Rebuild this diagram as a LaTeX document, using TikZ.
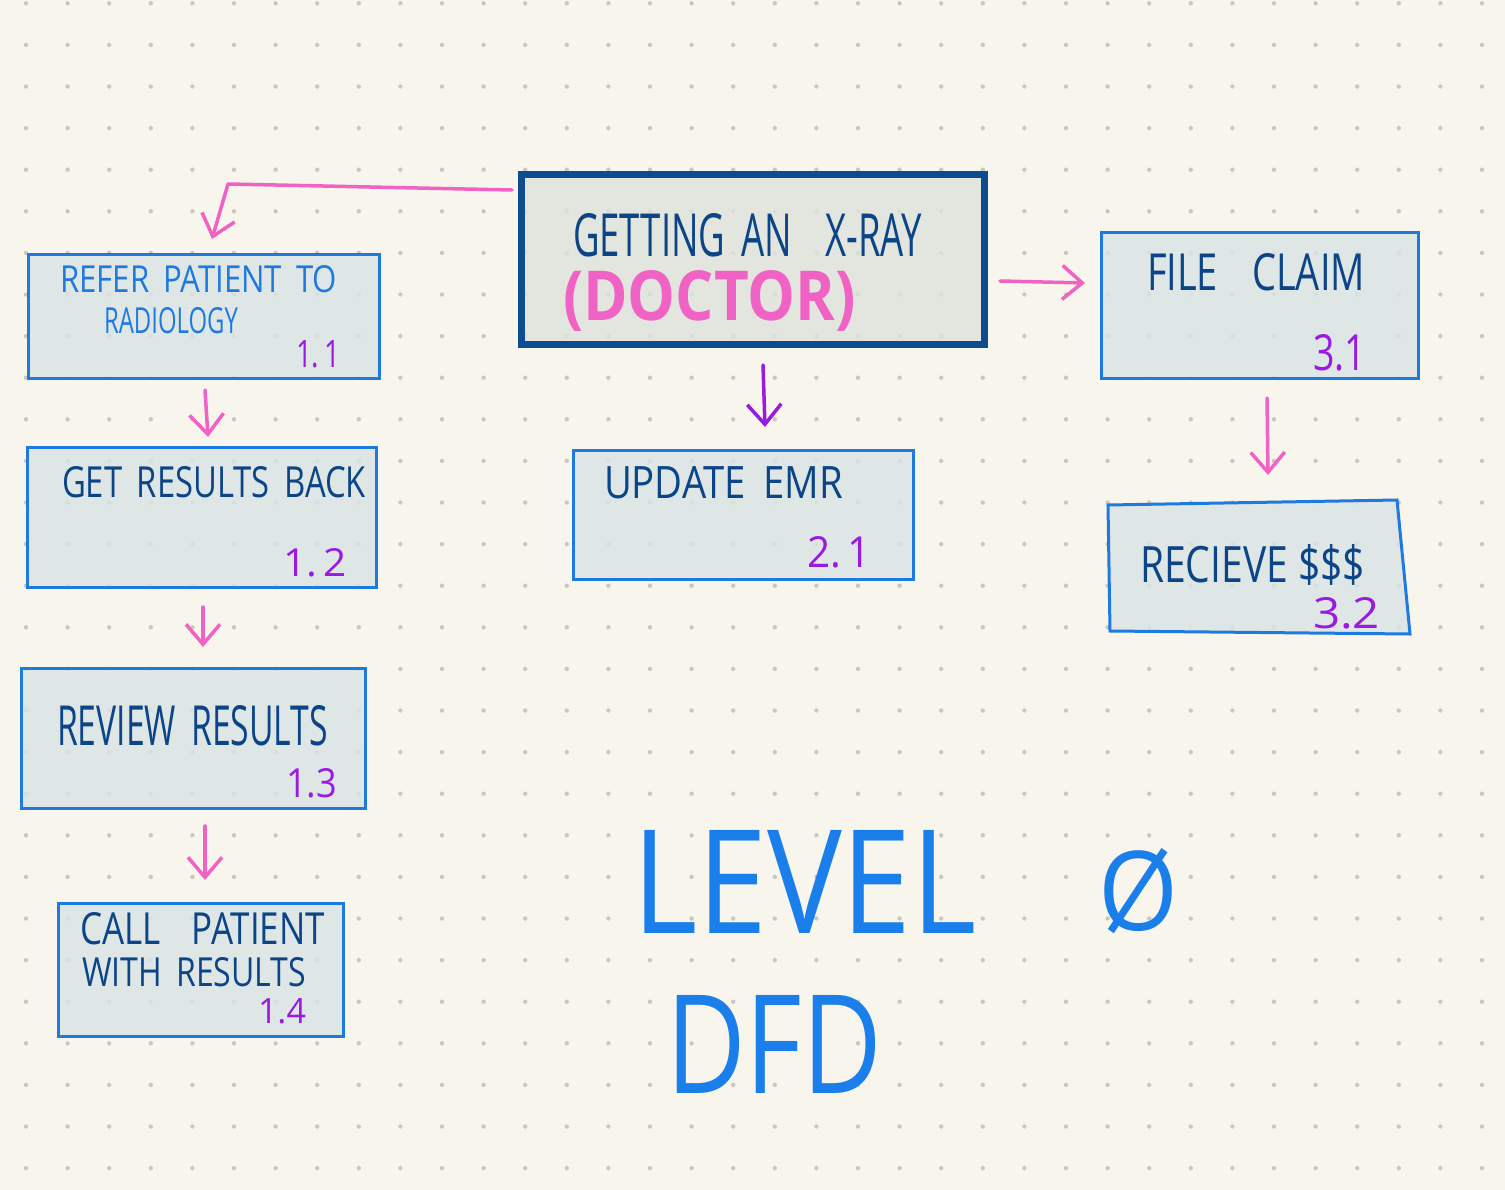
\documentclass[tikz,border=0pt]{standalone}
\usepackage{fontspec}
\setmainfont{Open Sans}
\usepackage{graphicx}
\usetikzlibrary{arrows.meta,calc}
\definecolor{bg}{HTML}{F8F6EC}
\definecolor{dotc}{HTML}{C9C7BF}
\definecolor{boxfill}{HTML}{DAE4E5}
\definecolor{mainfill}{HTML}{DEE3DB}
\definecolor{boxline}{HTML}{1F7AE0}
\definecolor{mainline}{HTML}{0E4C90}
\definecolor{navy}{HTML}{0B4487}
\definecolor{purp}{HTML}{9A1BE0}
\definecolor{pinkc}{HTML}{F062C4}
\definecolor{lvlblue}{HTML}{1A7FEA}
\newcommand{\hw}[3]{\resizebox{#1pt}{#2pt}{#3}}
\newcommand{\gap}{\hspace{0.45em}}
\begin{document}
\begin{tikzpicture}[x=1pt,y=-1pt,
  bx/.style={draw=boxline, line width=3pt, fill=boxfill, fill opacity=0.82, draw opacity=1, inner sep=0pt, outer sep=0pt},
  mainbx/.style={draw=mainline, line width=7pt, fill=mainfill, fill opacity=0.82, draw opacity=1, inner sep=0pt, outer sep=0pt},
  txt/.style={inner sep=0pt, outer sep=0pt, anchor=north west},
  arr/.style={draw=pinkc, line width=3.5pt, line cap=round, line join=round, -{Straight Barb[length=20pt,width=34pt]}},
  parr/.style={arr, draw=purp}]
\useasboundingbox (0,0) rectangle (1505,1190);
\fill[bg] (0,0) rectangle (1505,1190);
\foreach \i in {0,...,35}{\foreach \j in {0,...,28}{\fill[dotc] (26+41.6*\i, 3.3+41.6*\j) circle[radius=2.2];}}

% boxes
\node[mainbx, minimum width=463pt, minimum height=170pt] (main) at (753,259.5) {};
\node[bx, minimum width=351pt, minimum height=124pt] (b11) at (204,316.5) {};
\node[bx, minimum width=349pt, minimum height=140pt] (b12) at (202,517.5) {};
\node[bx, minimum width=344pt, minimum height=140pt] (b13) at (193.5,738.5) {};
\node[bx, minimum width=285pt, minimum height=133pt] (b14) at (201,970) {};
\node[bx, minimum width=340pt, minimum height=129pt] (b21) at (743.5,515) {};
\node[bx, minimum width=317pt, minimum height=146pt] (b31) at (1260,305.5) {};
\draw[draw=boxline, line width=3pt, fill=boxfill, fill opacity=0.82, draw opacity=1, line join=miter]
  (1108,505) -- (1397,500) -- (1410,634) -- (1110,631) -- cycle;
\coordinate (b32) at (1268,502);

% texts
\node[txt, text=navy] (t1) at (573,213) {\hw{349}{43}{GETTING\gap AN\gap\gap X-RAY}};
\node[txt, text=pinkc] (t2) at (563,270) {\hw{293}{50}{\bfseries(DOCTOR)}};
\node[txt, text=boxline] (t3) at (60,265) {\hw{277}{27}{REFER\gap PATIENT\gap TO}};
\node[txt, text=boxline] (t4) at (104,307) {\hw{134}{26}{RADIOLOGY}};
\node[txt, text=purp] (n11) at (296,340) {\hw{44}{27}{1.\,1}};
\node[txt, text=navy] (t5) at (62,466) {\hw{304}{31}{GET\gap RESULTS\gap BACK}};
\node[txt, text=purp] (n12) at (283,548) {\hw{64}{28}{1.\,2}};
\node[txt, text=navy] (t6) at (57,705) {\hw{271}{40}{REVIEW\gap RESULTS}};
\node[txt, text=purp] (n13) at (286,768) {\hw{51}{29}{1.3}};
\node[txt, text=navy] (t7) at (80,912) {\hw{245}{32}{CALL\gap\gap PATIENT}};
\node[txt, text=navy] (t8) at (82,957) {\hw{224}{29}{WITH\gap RESULTS}};
\node[txt, text=purp] (n14) at (258,998) {\hw{48}{25}{1.4}};
\node[txt, text=navy] (t9) at (604,466) {\hw{239}{32}{UPDATE\gap EMR}};
\node[txt, text=purp] (n21) at (807,536) {\hw{64}{31}{2.\,1}};
\node[txt, text=navy] (t10) at (1147,253) {\hw{218}{37}{FILE\gap\gap CLAIM}};
\node[txt, text=purp] (n31) at (1313,334) {\hw{53}{36}{3.1}};
\node[txt, text=navy] (t11) at (1140,544) {\hw{225}{38}{RECIEVE \$\$\$}};
\node[txt, text=purp] (n32) at (1313,597) {\hw{67}{31}{3.2}};
\node[txt, text=lvlblue] (t12) at (632,830) {\hw{345}{103}{LEVEL}};
\node[txt, text=lvlblue] (t13) at (1098,848) {\hw{80}{82}{Ø}};
\node[txt, text=lvlblue] (t14) at (666,995) {\hw{216}{98}{DFD}};

% arrows
\draw[arr] ($(main.north west)+(-9.5,15.5)$) -- (228,184) -- ($(b11.north)+(8,-15.5)$);
\draw[arr] ($(b11.south)+(1,11.5)$) -- ($(b12.north)+(6,-10.5)$);
\draw[arr] ($(b12.south)+(1,19.5)$) -- ($(b13.north)+(9.5,-21.5)$);
\draw[arr] ($(b13.south)+(11.5,17.5)$) -- ($(b14.north)+(4,-23.5)$);
\draw[parr] ($(main.south)+(10,20.5)$) -- ($(b21.north)+(21.5,-23.5)$);
\draw[arr] ($(main.east)+(15.5,21.5)$) -- ($(b31.west)+(-16.5,-22.5)$);
\draw[arr] ($(b31.south)+(7,19.5)$) -- ($(b32)+(0,-27)$);
\end{tikzpicture}
\end{document}
